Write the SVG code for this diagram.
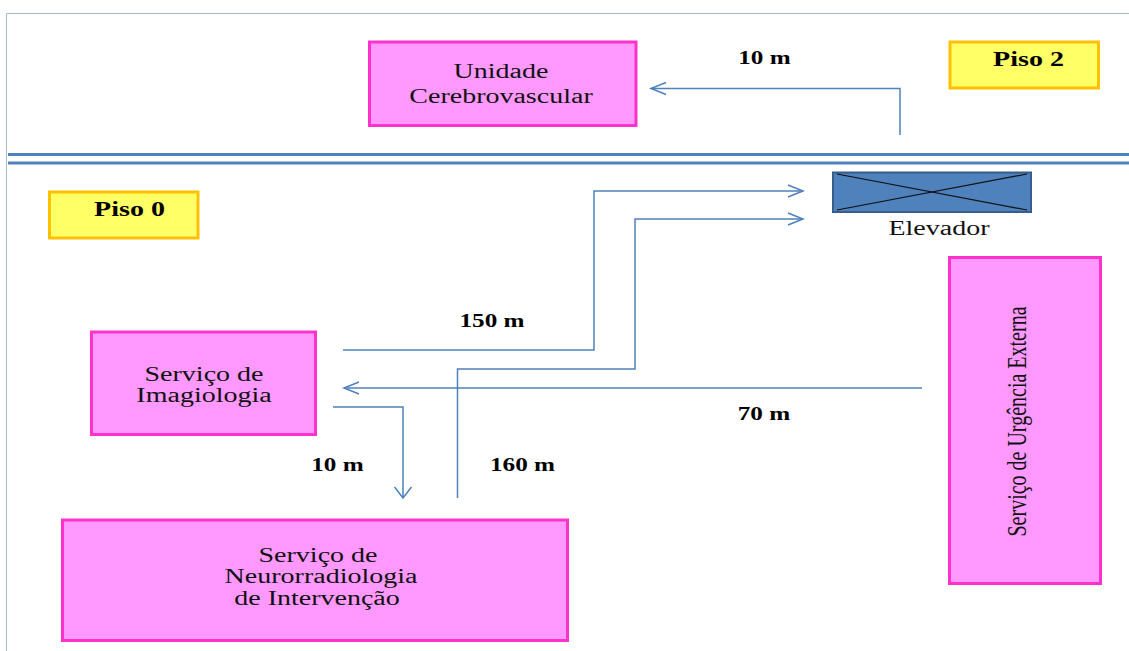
<svg xmlns="http://www.w3.org/2000/svg" width="1129" height="651" viewBox="0 0 1129 651">
<defs>
<style>
.box{fill:#ff99ff;stroke:#ff33cc;stroke-width:3}
.piso{fill:#ffff66;stroke:#ffc000;stroke-width:3}
.t{font-family:"Liberation Serif","Times New Roman",serif;font-size:20px;fill:#111;text-anchor:middle}
.b{font-family:"Liberation Serif","Times New Roman",serif;font-weight:bold;font-size:20px;fill:#000;text-anchor:middle}
.n{font-family:"Liberation Serif","Times New Roman",serif;font-weight:bold;font-size:18px;fill:#000;text-anchor:middle}
.c{fill:none;stroke:#4f81bd;stroke-width:1.5}
.floor{stroke:#4f81bd;stroke-width:3}
</style>
<marker id="ah" markerUnits="userSpaceOnUse" markerWidth="18" markerHeight="16" refX="15" refY="7" orient="auto" overflow="visible">
<path d="M0,1 L15,7 L0,13" fill="none" stroke="#4f81bd" stroke-width="1.5"/>
</marker>
<marker id="av" markerUnits="userSpaceOnUse" markerWidth="14" markerHeight="20" refX="11" refY="9" orient="auto" overflow="visible">
<path d="M0,0.5 L11,9 L0,17.5" fill="none" stroke="#4f81bd" stroke-width="1.5"/>
</marker>
</defs>
<rect width="1129" height="651" fill="#ffffff"/>
<g id="frame">
<path d="M6.5,651 V13.5 H1129" fill="none" stroke="#a7b9d1" stroke-width="1"/>
<line class="floor" x1="8" y1="154.5" x2="1129" y2="154.5"/>
<line class="floor" x1="8" y1="163" x2="1129" y2="163"/>
</g>
<g id="connectors">
<path class="c" d="M900,135 V88.5 H651" marker-end="url(#ah)"/>
<path class="c" d="M343,350 H594 V191 H803" marker-end="url(#ah)"/>
<path class="c" d="M457.5,498 V369 H635 V219 H803" marker-end="url(#ah)"/>
<path class="c" d="M922,388 H344" marker-end="url(#ah)"/>
<path class="c" d="M333,407 H403 V498" marker-end="url(#av)"/>
</g>
<g id="labels">
<text class="n" transform="matrix(1.4,0,0,1,764.5,64)">10 m</text>
<text class="n" transform="matrix(1.4,0,0,1,492,327)">150 m</text>
<text class="n" transform="matrix(1.4,0,0,1,764,420)">70 m</text>
<text class="n" transform="matrix(1.4,0,0,1,337.5,471)">10 m</text>
<text class="n" transform="matrix(1.4,0,0,1,522.5,471)">160 m</text>
</g>
<g id="unidade">
<rect class="box" x="369.5" y="42" width="266.5" height="83.5"/>
<text class="t" transform="matrix(1.4,0,0,1,501,78)">Unidade</text>
<text class="t" transform="matrix(1.4,0,0,1,501,103)">Cerebrovascular</text>
</g>
<g id="piso2">
<rect class="piso" x="950" y="42" width="148.5" height="46"/>
<text class="b" transform="matrix(1.4,0,0,1,1028.5,66)">Piso 2</text>
</g>
<g id="piso0">
<rect class="piso" x="49.5" y="192" width="148.5" height="46"/>
<text class="b" transform="matrix(1.4,0,0,1,129.5,216)">Piso 0</text>
</g>
<g id="elevador">
<rect x="833" y="172.5" width="198" height="39.5" fill="#4f81bd" stroke="#385d8a" stroke-width="2"/>
<line x1="837" y1="174" x2="1027" y2="210" stroke="#111" stroke-width="1.2"/>
<line x1="837" y1="210" x2="1027" y2="174" stroke="#111" stroke-width="1.2"/>
<text class="t" transform="matrix(1.4,0,0,1,939,235)">Elevador</text>
</g>
<g id="imagiologia">
<rect class="box" x="91.5" y="332" width="224" height="102.5"/>
<text class="t" transform="matrix(1.4,0,0,1,204,381)">Serviço de</text>
<text class="t" transform="matrix(1.4,0,0,1,204,402)">Imagiologia</text>
</g>
<g id="neurorradiologia">
<rect class="box" x="62.5" y="520" width="505" height="120.5"/>
<text class="t" transform="matrix(1.4,0,0,1,318,562)">Serviço de</text>
<text class="t" transform="matrix(1.4,0,0,1,321,583)">Neurorradiologia</text>
<text class="t" transform="matrix(1.4,0,0,1,317,605)">de Intervenção</text>
</g>
<g id="urgencia">
<rect class="box" x="949.5" y="257.5" width="151" height="326"/>
<text class="t" transform="matrix(0,-1,1.4,0,1026,421.5)">Serviço de Urgência Externa</text>
</g>
</svg>
